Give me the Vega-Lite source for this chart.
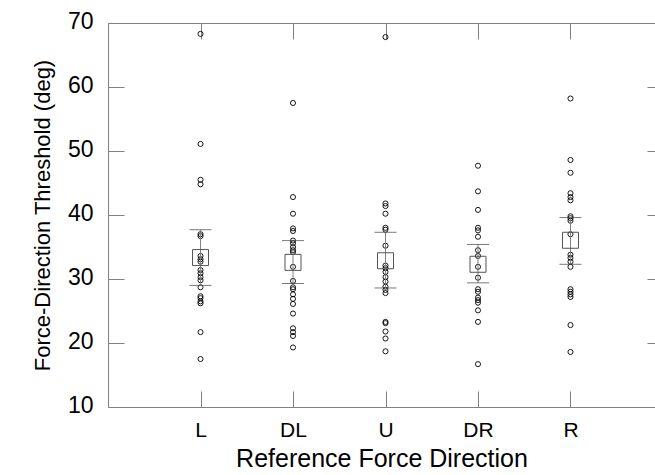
{
  "$schema": "https://vega.github.io/schema/vega-lite/v6.json",
  "autosize": "none",
  "width": 547,
  "height": 384,
  "padding": {"left": 108, "top": 23, "right": 0, "bottom": 68},
  "background": "white",
  "config": {
    "view": {"stroke": null},
    "font": "Liberation Sans",
    "axis": {
      "grid": false,
      "domainColor": "#808080",
      "tickColor": "#808080",
      "domainWidth": 1,
      "tickWidth": 1,
      "labelFont": "Liberation Sans",
      "titleFont": "Liberation Sans",
      "labelColor": "#000",
      "titleColor": "#000",
      "titleFontWeight": "normal"
    }
  },
  "datasets": {
    "pts": [
      {"dir": "L", "v": 68.3}, {"dir": "L", "v": 51.1}, {"dir": "L", "v": 45.5}, {"dir": "L", "v": 44.8},
      {"dir": "L", "v": 37.0}, {"dir": "L", "v": 36.7}, {"dir": "L", "v": 33.6}, {"dir": "L", "v": 33.1},
      {"dir": "L", "v": 32.7}, {"dir": "L", "v": 31.4}, {"dir": "L", "v": 30.9}, {"dir": "L", "v": 30.3},
      {"dir": "L", "v": 29.8}, {"dir": "L", "v": 28.7}, {"dir": "L", "v": 27.3}, {"dir": "L", "v": 27.0},
      {"dir": "L", "v": 26.5}, {"dir": "L", "v": 26.2}, {"dir": "L", "v": 21.7}, {"dir": "L", "v": 17.5},
      {"dir": "DL", "v": 57.5}, {"dir": "DL", "v": 42.8}, {"dir": "DL", "v": 40.2}, {"dir": "DL", "v": 37.9},
      {"dir": "DL", "v": 37.5}, {"dir": "DL", "v": 36.0}, {"dir": "DL", "v": 35.6}, {"dir": "DL", "v": 35.0},
      {"dir": "DL", "v": 34.5}, {"dir": "DL", "v": 34.2}, {"dir": "DL", "v": 31.9}, {"dir": "DL", "v": 29.7},
      {"dir": "DL", "v": 28.7}, {"dir": "DL", "v": 28.4}, {"dir": "DL", "v": 27.6}, {"dir": "DL", "v": 26.9},
      {"dir": "DL", "v": 26.1}, {"dir": "DL", "v": 24.6}, {"dir": "DL", "v": 22.3}, {"dir": "DL", "v": 21.7},
      {"dir": "DL", "v": 21.1}, {"dir": "DL", "v": 19.3},
      {"dir": "U", "v": 67.8}, {"dir": "U", "v": 41.8}, {"dir": "U", "v": 41.4}, {"dir": "U", "v": 40.2},
      {"dir": "U", "v": 38.0}, {"dir": "U", "v": 37.7}, {"dir": "U", "v": 35.2}, {"dir": "U", "v": 32.1},
      {"dir": "U", "v": 31.7}, {"dir": "U", "v": 31.1}, {"dir": "U", "v": 30.3}, {"dir": "U", "v": 29.6},
      {"dir": "U", "v": 28.8}, {"dir": "U", "v": 28.3}, {"dir": "U", "v": 27.8}, {"dir": "U", "v": 23.3},
      {"dir": "U", "v": 23.1}, {"dir": "U", "v": 21.8}, {"dir": "U", "v": 20.7}, {"dir": "U", "v": 18.7},
      {"dir": "DR", "v": 47.7}, {"dir": "DR", "v": 43.7}, {"dir": "DR", "v": 40.8}, {"dir": "DR", "v": 38.0},
      {"dir": "DR", "v": 37.6}, {"dir": "DR", "v": 36.6}, {"dir": "DR", "v": 34.5}, {"dir": "DR", "v": 33.6},
      {"dir": "DR", "v": 31.9}, {"dir": "DR", "v": 30.2}, {"dir": "DR", "v": 28.4}, {"dir": "DR", "v": 28.0},
      {"dir": "DR", "v": 27.1}, {"dir": "DR", "v": 26.7}, {"dir": "DR", "v": 26.3}, {"dir": "DR", "v": 25.1},
      {"dir": "DR", "v": 23.3}, {"dir": "DR", "v": 16.7},
      {"dir": "R", "v": 58.2}, {"dir": "R", "v": 48.6}, {"dir": "R", "v": 46.6}, {"dir": "R", "v": 43.4},
      {"dir": "R", "v": 42.8}, {"dir": "R", "v": 42.3}, {"dir": "R", "v": 39.8}, {"dir": "R", "v": 39.5},
      {"dir": "R", "v": 39.1}, {"dir": "R", "v": 37.0}, {"dir": "R", "v": 33.8}, {"dir": "R", "v": 33.3},
      {"dir": "R", "v": 32.7}, {"dir": "R", "v": 31.9}, {"dir": "R", "v": 28.4}, {"dir": "R", "v": 28.0},
      {"dir": "R", "v": 27.6}, {"dir": "R", "v": 27.2}, {"dir": "R", "v": 22.8}, {"dir": "R", "v": 18.6}
    ],
    "summ": [
      {"dir": "L", "mean": 33.35, "lo": 29.0, "hi": 37.7},
      {"dir": "DL", "mean": 32.6, "lo": 29.3, "hi": 36.0},
      {"dir": "U", "mean": 32.85, "lo": 28.6, "hi": 37.3},
      {"dir": "DR", "mean": 32.3, "lo": 29.4, "hi": 35.4},
      {"dir": "R", "mean": 36.05, "lo": 32.3, "hi": 39.6}
    ]
  },
  "resolve": {"axis": {"x": "independent", "y": "independent"}},
  "layer": [
    {
      "data": {"name": "pts"},
      "mark": {"type": "point", "shape": "circle", "filled": false, "stroke": "#000", "strokeWidth": 0.9, "size": 26, "opacity": 1},
      "encoding": {
        "x": {
          "field": "dir", "type": "nominal",
          "scale": {"type": "point", "domain": ["L", "DL", "U", "DR", "R"], "padding": 0.957, "align": 0.5226},
          "axis": {"orient": "bottom", "title": "Reference Force Direction", "tickSize": -16, "labelPadding": 28, "labelAngle": 0, "labelFontSize": 21, "titleFontSize": 25, "titlePadding": 6}
        },
        "y": {
          "field": "v", "type": "quantitative",
          "scale": {"domain": [10, 70], "nice": false, "zero": false},
          "axis": {"orient": "left", "title": "Force-Direction Threshold (deg)", "values": [10, 20, 30, 40, 50, 60, 70], "tickSize": -16, "labelPadding": 31, "labelFontSize": 23, "labelOffset": -2, "titleFontSize": 22, "titlePadding": 13}
        }
      }
    },
    {
      "data": {"name": "summ"},
      "mark": {"type": "rule", "color": "#808080", "strokeWidth": 1},
      "encoding": {
        "x": {
          "field": "dir", "type": "nominal",
          "axis": {"orient": "top", "title": null, "labels": false, "tickSize": -16}
        },
        "y": {
          "field": "lo", "type": "quantitative",
          "axis": {"orient": "right", "title": null, "labels": false, "domain": false, "values": [20, 30, 40, 50, 60], "tickSize": -8}
        },
        "y2": {"field": "hi"}
      }
    },
    {
      "data": {"name": "summ"},
      "mark": {"type": "tick", "orient": "horizontal", "size": 22, "thickness": 1, "color": "#404040"},
      "encoding": {
        "x": {"field": "dir", "type": "nominal", "axis": null},
        "y": {"field": "lo", "type": "quantitative", "axis": null}
      }
    },
    {
      "data": {"name": "summ"},
      "mark": {"type": "tick", "orient": "horizontal", "size": 22, "thickness": 1, "color": "#404040"},
      "encoding": {
        "x": {"field": "dir", "type": "nominal", "axis": null},
        "y": {"field": "hi", "type": "quantitative", "axis": null}
      }
    },
    {
      "data": {"name": "summ"},
      "mark": {"type": "point", "shape": "square", "filled": false, "stroke": "#555", "strokeWidth": 1, "size": 256, "opacity": 1},
      "encoding": {
        "x": {"field": "dir", "type": "nominal", "axis": null},
        "y": {"field": "mean", "type": "quantitative", "axis": null}
      }
    }
  ]
}
